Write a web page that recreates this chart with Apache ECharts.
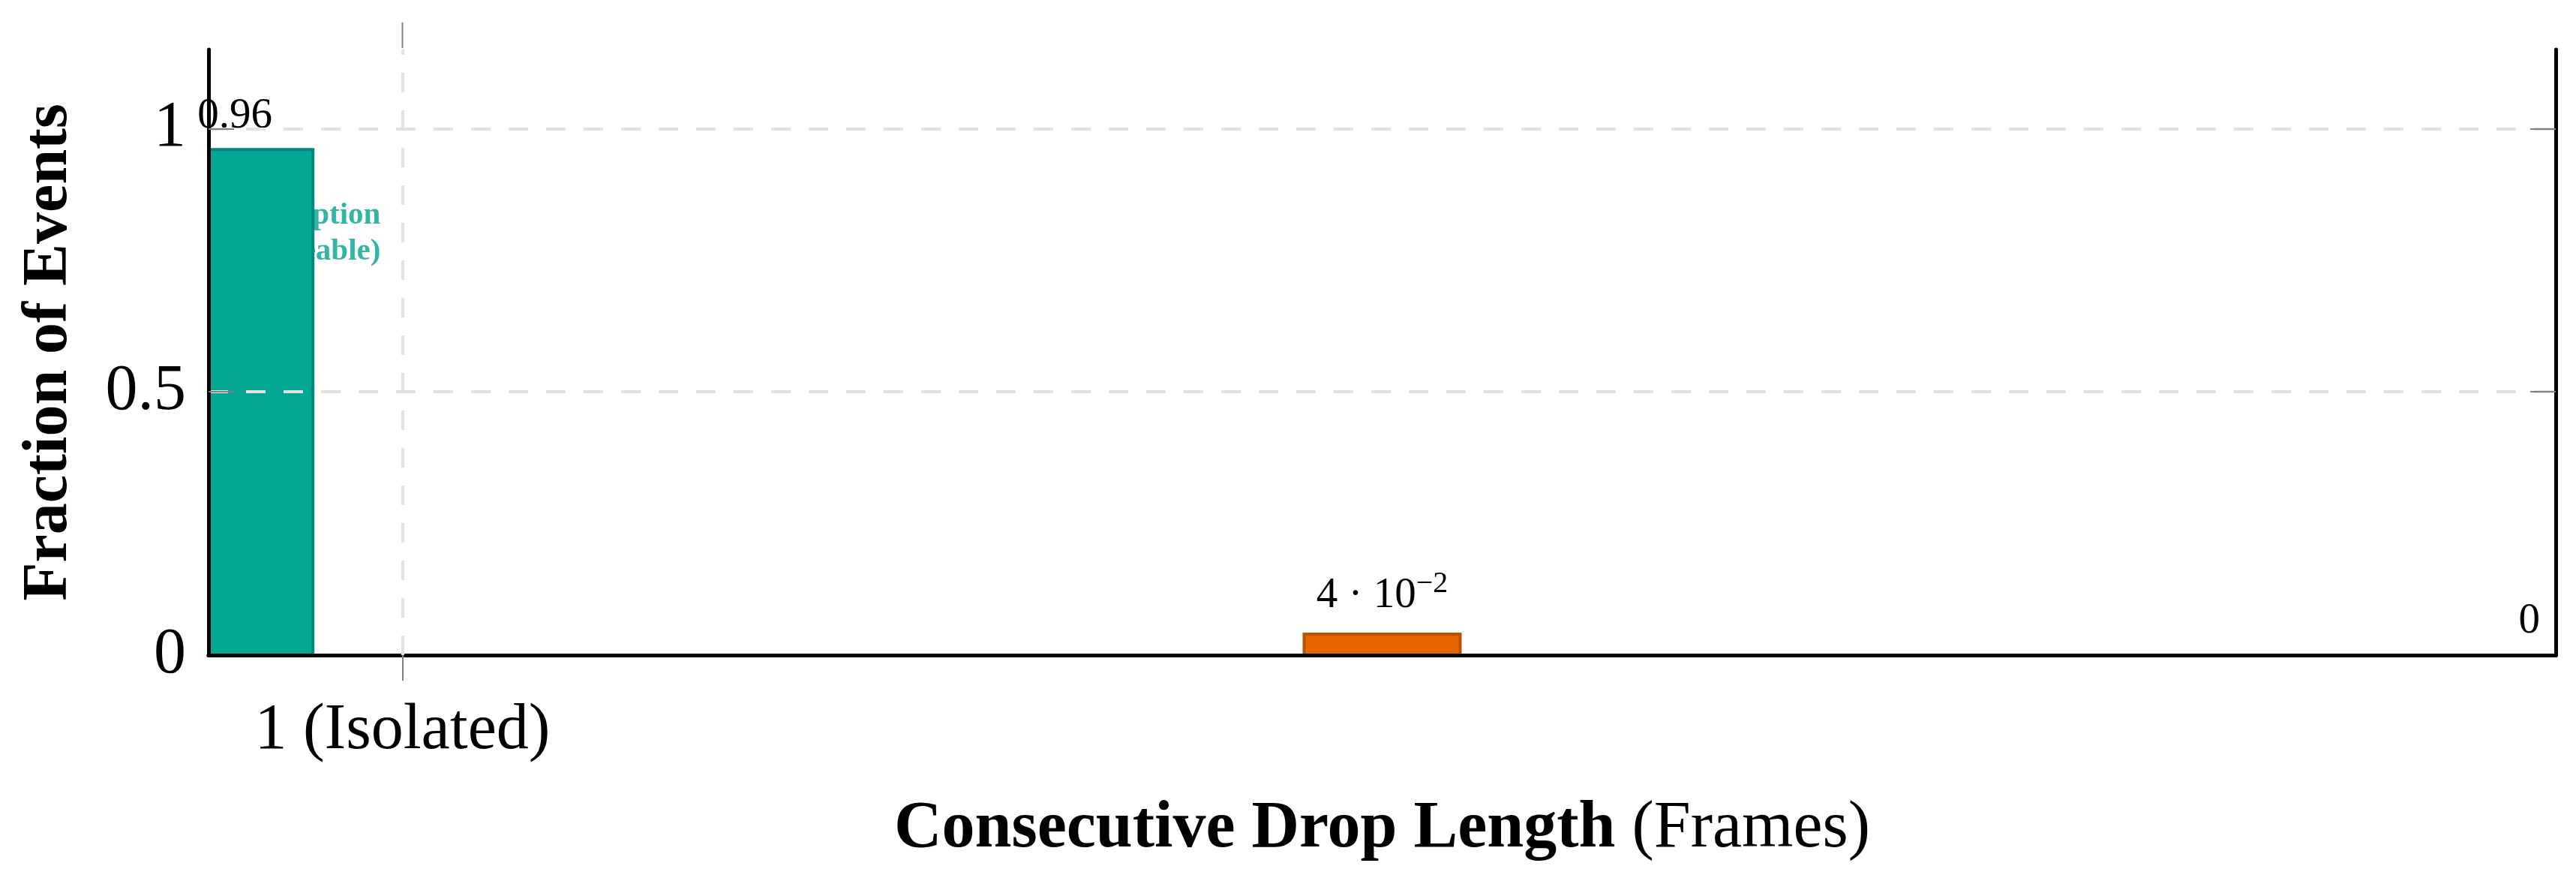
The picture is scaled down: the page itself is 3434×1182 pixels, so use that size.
<!DOCTYPE html>
<html>
<head>
<meta charset="utf-8">
<script src="https://cdn.jsdelivr.net/npm/echarts@6/dist/echarts.min.js"></script>
<style>
  html, body { margin: 0; padding: 0; background: #fff; }
  #chart { width: 3434px; height: 1182px; }
</style>
</head>
<body>
<div id="chart"></div>
<script>
// data
const barPositions = [0.854, 1.854, 2.854];
const fractions = [0.96, 0.04, 0];
const barLabels = ['0.96', '4 · 10{sup|−2}', '0'];
const xTicks = [1];
const xTickLabels = ['1 (Isolated)'];
const yTicks = [0, 0.5, 1];
const noteLines = ['Disruption', '(Noticeable)'];
const notePoint = [0.981, 0.8];

const FONT = 'Liberation Serif';
const barColors = ['#02A894', '#E56500', '#999999'];
const barBorders = ['#00897A', '#B95300', '#999999'];
const BAR_W = 0.136; // bar width in x-axis units
const Y_MAX = 1.15;

const chart = echarts.init(document.getElementById('chart'), null, { renderer: 'canvas' });

// bars are clipped to the plot box like pgfplots does
function renderBar(params, api) {
  const i = params.dataIndex;
  const x = api.value(0);
  const v = api.value(1);
  const base = api.coord([x, 0]);
  const top = api.coord([x, v]);
  const w = api.size([BAR_W, 0])[0];
  const cs = params.coordSys;
  const children = [];
  if (v > 0) {
    const rect = echarts.graphic.clipRectByRect(
      { x: base[0] - w / 2, y: top[1], width: w, height: base[1] - top[1] },
      { x: cs.x, y: cs.y, width: cs.width, height: cs.height }
    );
    if (rect) {
      children.push({
        type: 'rect',
        shape: rect,
        style: { fill: barColors[i], stroke: barBorders[i], lineWidth: 4 }
      });
    }
  }
  children.push({
    type: 'text',
    style: {
      x: base[0],
      y: top[1] - 16,
      text: barLabels[i],
      align: 'center',
      verticalAlign: 'bottom',
      fontFamily: FONT,
      fontSize: 57,
      fill: '#000',
      rich: {
        sup: { fontFamily: FONT, fontSize: 40, fill: '#000', padding: [0, 0, 30, 0] }
      }
    }
  });
  return { type: 'group', children: children };
}

// outward tick above the top frame, at the same x as the bottom tick
function renderTopTick(params, api) {
  const p = api.coord([api.value(0), Y_MAX]);
  return {
    type: 'line',
    shape: { x1: p[0], y1: p[1] - 2, x2: p[0], y2: p[1] - 36 },
    style: { stroke: '#808080', lineWidth: 2 }
  };
}

const tickStyle = { color: '#808080', width: 2 };

const option = {
  animation: false,
  backgroundColor: '#fff',
  grid: { left: 278, right: 27, top: 66, bottom: 309 },
  xAxis: [{
    type: 'value',
    position: 'bottom',
    min: 0.831,
    max: 2.877,
    z: 4,
    axisLine: { show: true, lineStyle: { color: '#000', width: 5 } },
    axisTick: { show: true, customValues: xTicks, length: 34, lineStyle: tickStyle },
    axisLabel: {
      show: true, customValues: xTicks, margin: 58,
      formatter: v => xTickLabels[xTicks.indexOf(v)] || '',
      fontFamily: FONT, fontSize: 86, color: '#000'
    },
    splitLine: { show: false },
    name: '{b|Consecutive Drop Length} (Frames)',
    nameLocation: 'middle',
    nameGap: 188,
    nameTextStyle: {
      fontFamily: FONT, fontSize: 88, color: '#000',
      rich: { b: { fontFamily: FONT, fontSize: 88, fontWeight: 'bold', color: '#000' } }
    }
  }, {
    type: 'value',
    position: 'top',
    min: 0.831,
    max: 2.877,
    z: 4,
    axisLine: { show: true, lineStyle: { color: '#000', width: 5 } },
    axisTick: { show: false },
    axisLabel: { show: false },
    splitLine: { show: false }
  }],
  yAxis: [{
    type: 'value',
    min: 0,
    max: Y_MAX,
    interval: 0.5,
    z: 3,
    axisLine: { show: true, lineStyle: { color: '#000', width: 5 } },
    axisTick: { show: true, inside: true, customValues: [0.5, 1], length: 34, lineStyle: tickStyle },
    axisLabel: {
      customValues: yTicks, margin: 30,
      formatter: v => String(v),
      fontFamily: FONT, fontSize: 86, color: '#000'
    },
    splitLine: { show: true, lineStyle: { color: '#E2E2E2', width: 4, type: [26, 24] } },
    name: 'Fraction of Events',
    nameLocation: 'middle',
    nameGap: 170,
    nameTextStyle: { fontFamily: FONT, fontSize: 84, fontWeight: 'bold', color: '#000' }
  }, {
    type: 'value',
    position: 'right',
    min: 0,
    max: Y_MAX,
    interval: 0.5,
    z: 4,
    axisLine: { show: true, lineStyle: { color: '#000', width: 5 } },
    axisTick: { show: true, inside: true, customValues: [0.5, 1], length: 34, lineStyle: tickStyle },
    axisLabel: { show: false },
    splitLine: { show: false }
  }],
  series: [{
    type: 'scatter',
    z: 1,
    symbolSize: 0,
    silent: true,
    data: [notePoint],
    label: {
      show: true,
      position: 'left',
      distance: 0,
      align: 'right',
      formatter: noteLines.join('\n'),
      fontFamily: FONT, fontSize: 41, lineHeight: 48, fontWeight: 'bold', color: '#00A28E'
    }
  }, {
    type: 'custom',
    z: 2,
    clip: false,
    renderItem: renderBar,
    data: fractions.map((v, i) => [barPositions[i], v]),
    markLine: {
      silent: true,
      symbol: 'none',
      label: { show: false },
      lineStyle: { color: '#E2E2E2', width: 4, type: [26, 24] },
      data: xTicks.map(v => ({ xAxis: v }))
    }
  }, {
    type: 'custom',
    z: 5,
    clip: false,
    silent: true,
    renderItem: renderTopTick,
    data: xTicks.map(v => [v])
  }]
};

chart.setOption(option);
</script>
</body>
</html>
